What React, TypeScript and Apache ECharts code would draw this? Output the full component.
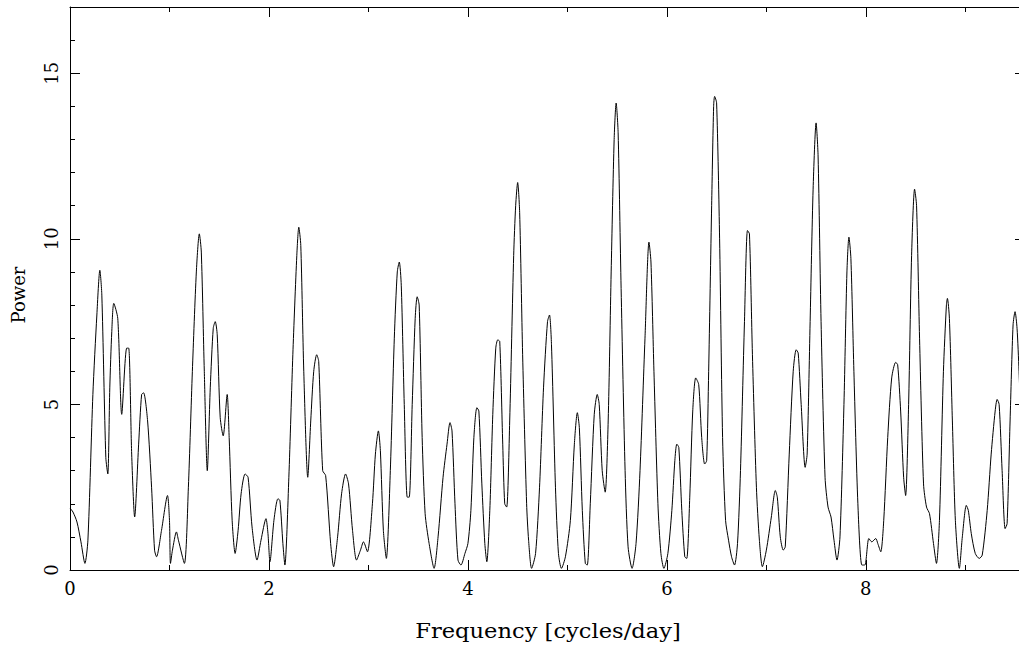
import React, { useEffect, useRef } from "react";
import * as echarts from "echarts";

const freq = [
  0.0, 0.03, 0.07, 0.11, 0.15, 0.18, 0.23, 0.27, 0.3, 0.32, 0.36, 0.38, 0.4, 0.42, 0.44, 0.48,
  0.52, 0.57, 0.59, 0.62, 0.65, 0.69, 0.72, 0.74, 0.78, 0.82, 0.85, 0.87, 0.92, 0.98, 1.0, 1.01,
  1.03, 1.07, 1.09, 1.15, 1.19, 1.23, 1.27, 1.3, 1.32, 1.35, 1.38, 1.41, 1.44, 1.46, 1.48, 1.51,
  1.54, 1.58, 1.6, 1.63, 1.66, 1.69, 1.72, 1.76, 1.79, 1.83, 1.88, 1.92, 1.97, 1.99, 2.01, 2.05,
  2.09, 2.11, 2.14, 2.16, 2.2, 2.24, 2.28, 2.3, 2.32, 2.35, 2.39, 2.42, 2.45, 2.48, 2.5, 2.54,
  2.57, 2.62, 2.65, 2.69, 2.73, 2.77, 2.8, 2.84, 2.88, 2.92, 2.95, 2.99, 3.04, 3.07, 3.1, 3.12,
  3.15, 3.18, 3.22, 3.26, 3.29, 3.31, 3.33, 3.36, 3.39, 3.41, 3.44, 3.47, 3.49, 3.51, 3.54, 3.57,
  3.61, 3.66, 3.7, 3.75, 3.79, 3.82, 3.84, 3.87, 3.9, 3.93, 3.97, 4.0, 4.03, 4.06, 4.09, 4.11,
  4.14, 4.17, 4.19, 4.22, 4.25, 4.28, 4.3, 4.32, 4.35, 4.37, 4.39, 4.42, 4.46, 4.48, 4.5, 4.52,
  4.55, 4.59, 4.61, 4.64, 4.68, 4.72, 4.76, 4.8, 4.82, 4.84, 4.88, 4.91, 4.94, 4.98, 5.03, 5.07,
  5.1, 5.12, 5.15, 5.18, 5.2, 5.23, 5.27, 5.3, 5.32, 5.35, 5.38, 5.41, 5.44, 5.47, 5.49, 5.51,
  5.54, 5.58, 5.61, 5.65, 5.69, 5.73, 5.78, 5.82, 5.84, 5.87, 5.91, 5.94, 5.97, 6.01, 6.05, 6.08,
  6.1, 6.12, 6.15, 6.18, 6.2, 6.23, 6.26, 6.29, 6.32, 6.35, 6.38, 6.4, 6.42, 6.45, 6.47, 6.48,
  6.5, 6.53, 6.56, 6.59, 6.62, 6.65, 6.68, 6.71, 6.74, 6.78, 6.81, 6.83, 6.86, 6.9, 6.93, 6.96,
  7.0, 7.05, 7.09, 7.11, 7.14, 7.17, 7.19, 7.23, 7.27, 7.3, 7.32, 7.35, 7.39, 7.41, 7.44, 7.47,
  7.5, 7.52, 7.55, 7.59, 7.62, 7.65, 7.68, 7.71, 7.74, 7.78, 7.81, 7.83, 7.85, 7.88, 7.92, 7.96,
  7.99, 8.03, 8.06, 8.1, 8.12, 8.15, 8.18, 8.22, 8.26, 8.3, 8.32, 8.35, 8.38, 8.4, 8.43, 8.46,
  8.49, 8.51, 8.54, 8.58, 8.61, 8.64, 8.68, 8.71, 8.74, 8.78, 8.81, 8.82, 8.84, 8.87, 8.9, 8.94,
  8.97, 9.01, 9.03, 9.06, 9.1, 9.14, 9.17, 9.22, 9.26, 9.3, 9.32, 9.34, 9.37, 9.4, 9.42, 9.45,
  9.48, 9.5, 9.52, 9.54, 9.57,
];

const power = [
  1.87, 1.75, 1.45, 0.85, 0.2, 0.9, 5.3, 7.7, 9.05, 8.3, 3.4, 2.9, 5.5, 7.2, 8.05, 7.6,
  4.7, 6.7, 6.7, 3.5, 1.6, 3.8, 5.3, 5.35, 4.5, 2.5, 0.6, 0.4, 1.2, 2.25, 1.5, 0.2,
  0.6, 1.15, 0.9, 0.2, 2.5, 6.0, 9.0, 10.15, 9.6, 6.0, 3.0, 5.5, 7.3, 7.5, 7.1, 4.6,
  4.05, 5.3, 4.0, 1.5, 0.5, 1.2, 2.3, 2.9, 2.8, 1.3, 0.3, 0.9, 1.55, 1.1, 0.25, 1.5,
  2.15, 2.1, 0.8, 0.15, 2.8, 6.5, 9.5, 10.35, 9.8, 6.0, 2.8, 4.5, 6.0, 6.5, 6.3, 3.0,
  2.85, 0.8, 0.1, 1.0, 2.3, 2.9, 2.6, 1.2, 0.3, 0.6, 0.85, 0.55, 2.0, 3.5, 4.2, 3.6,
  1.2, 0.35, 3.0, 7.0, 9.0, 9.3, 8.6, 5.0, 2.2, 2.2, 5.0, 7.6, 8.25, 8.0, 4.0, 1.7,
  0.8, 0.05, 1.0, 2.8, 3.8, 4.45, 4.2, 2.0, 0.3, 0.15, 0.5, 0.8, 1.8, 4.0, 4.9, 4.8,
  2.6, 0.8, 0.25, 1.8, 4.7, 6.7, 6.95, 6.9, 3.8, 2.0, 1.9, 4.5, 9.5, 11.0, 11.7, 10.8,
  6.5, 2.0, 0.9, 0.05, 0.5, 2.5, 5.5, 7.5, 7.7, 6.8, 2.5, 0.5, 0.05, 0.4, 1.5, 3.8,
  4.75, 4.3, 1.8, 0.2, 0.15, 2.0, 4.7, 5.3, 5.0, 3.0, 2.35, 4.5, 9.0, 13.0, 14.1, 13.2,
  8.5, 3.0, 0.7, 0.05, 0.8, 3.0, 7.0, 9.9, 9.3, 6.0, 2.0, 0.5, 0.05, 0.5, 1.8, 3.3,
  3.8, 3.7, 1.8, 0.4, 0.35, 2.2, 4.8, 5.8, 5.6, 4.0, 3.2, 3.3, 6.0, 11.0, 14.0, 14.3,
  14.1, 10.0, 4.0, 1.5, 0.9, 0.4, 0.15, 0.8, 3.0, 7.5, 10.25, 10.15, 6.5, 2.5, 0.9, 0.1,
  0.6, 1.6, 2.4, 2.2, 1.0, 0.6, 0.7, 3.5, 6.0, 6.65, 6.55, 5.0, 3.1, 3.5, 7.5, 11.5,
  13.5, 12.5, 7.5, 2.8, 1.9, 1.6, 0.9, 0.3, 1.0, 5.0, 9.0, 10.05, 9.4, 6.0, 2.0, 0.15,
  0.15, 0.95, 0.85, 0.95, 0.8, 0.55, 1.5, 4.0, 5.8, 6.27, 6.2, 4.8, 2.8, 2.25, 5.0, 9.5,
  11.5, 11.0, 7.0, 2.6, 1.9, 1.7, 0.8, 0.2, 1.5, 6.0, 8.0, 8.2, 7.6, 4.5, 1.5, 0.05,
  1.0, 1.95, 1.8, 1.1, 0.5, 0.35, 0.45, 1.8, 3.5, 4.8, 5.15, 5.0, 3.0, 1.25, 1.4, 4.5,
  7.4, 7.8, 7.3, 6.0, 3.5,
];

const xTicks = { min: 0, max: 9.6, minor: 1, major: 2 };
const yTicks = { min: 0, max: 17, minor: 1, major: 5 };

const FONT = "DejaVu Serif";

export default function App() {
  const ref = useRef<HTMLDivElement>(null);
  useEffect(() => {
    if (!ref.current) return;
    const chart = echarts.init(ref.current, null, { renderer: "svg" });
    const data = freq.map((f, i) => [f, power[i]]);
    const lineStyle = { color: "#000", width: 1 };

    const xAxisDef = (position: string, interval: number, len: number, showLine: boolean, labels: boolean) => ({
      type: "value",
      gridIndex: 0,
      position,
      min: xTicks.min,
      max: xTicks.max,
      interval,
      axisLine: { show: showLine, onZero: false, lineStyle },
      axisTick: { show: true, inside: true, length: len, lineStyle },
      axisLabel: {
        show: labels,
        showMaxLabel: false,
        color: "#000",
        fontFamily: FONT,
        fontSize: 18,
        margin: 9,
        formatter: (v: number) => (Math.abs(v % xTicks.major) < 1e-9 ? String(v) : ""),
      },
      splitLine: { show: false },
    });

    const yAxisDef = (position: string, interval: number, len: number, showLine: boolean, labels: boolean) => ({
      type: "value",
      gridIndex: 0,
      position,
      min: yTicks.min,
      max: yTicks.max,
      interval,
      axisLine: { show: showLine, onZero: false, lineStyle },
      axisTick: { show: true, inside: true, length: len, lineStyle },
      axisLabel: {
        show: labels,
        showMaxLabel: false,
        rotate: 90,
        color: "#000",
        fontFamily: FONT,
        fontSize: 18,
        margin: 10,
        formatter: (v: number) => (Math.abs(v % yTicks.major) < 1e-9 ? String(v) : ""),
      },
      splitLine: { show: false },
    });

    chart.setOption({
      animation: false,
      backgroundColor: "#fff",
      grid: { left: 70, top: 7, width: 955, height: 563, containLabel: false },
      xAxis: [
        xAxisDef("bottom", xTicks.minor, 5, true, true),
        xAxisDef("bottom", xTicks.major, 10, false, false),
        xAxisDef("top", xTicks.minor, 5, true, false),
        xAxisDef("top", xTicks.major, 10, false, false),
      ],
      yAxis: [
        yAxisDef("left", yTicks.minor, 5, true, true),
        yAxisDef("left", yTicks.major, 10, false, false),
        yAxisDef("right", yTicks.minor, 5, true, false),
        yAxisDef("right", yTicks.major, 10, false, false),
      ],
      series: [
        {
          type: "line",
          xAxisIndex: 0,
          yAxisIndex: 0,
          data,
          showSymbol: false,
          smooth: 0.25,
          lineStyle: { color: "#000", width: 1 },
          clip: true,
        },
      ],
      graphic: [
        {
          type: "text",
          x: 18,
          y: 295,
          rotation: Math.PI / 2,
          style: {
            text: "Power",
            fill: "#000",
            font: `18px "${FONT}"`,
            textAlign: "center",
            textVerticalAlign: "middle",
          },
        },
        {
          type: "text",
          x: 548,
          y: 631,
          scaleX: 1.13,
          style: {
            text: "Frequency [cycles/day]",
            fill: "#000",
            font: `20px "${FONT}"`,
            textAlign: "center",
            textVerticalAlign: "middle",
          },
        },
      ],
    });
    return () => chart.dispose();
  }, []);
  return (
    <div
      style={{
        position: "absolute",
        left: 0,
        top: 0,
        width: 1019,
        height: 648,
        overflow: "hidden",
        background: "#fff",
      }}
    >
      <div ref={ref} style={{ width: 1040, height: 648 }} />
    </div>
  );
}
